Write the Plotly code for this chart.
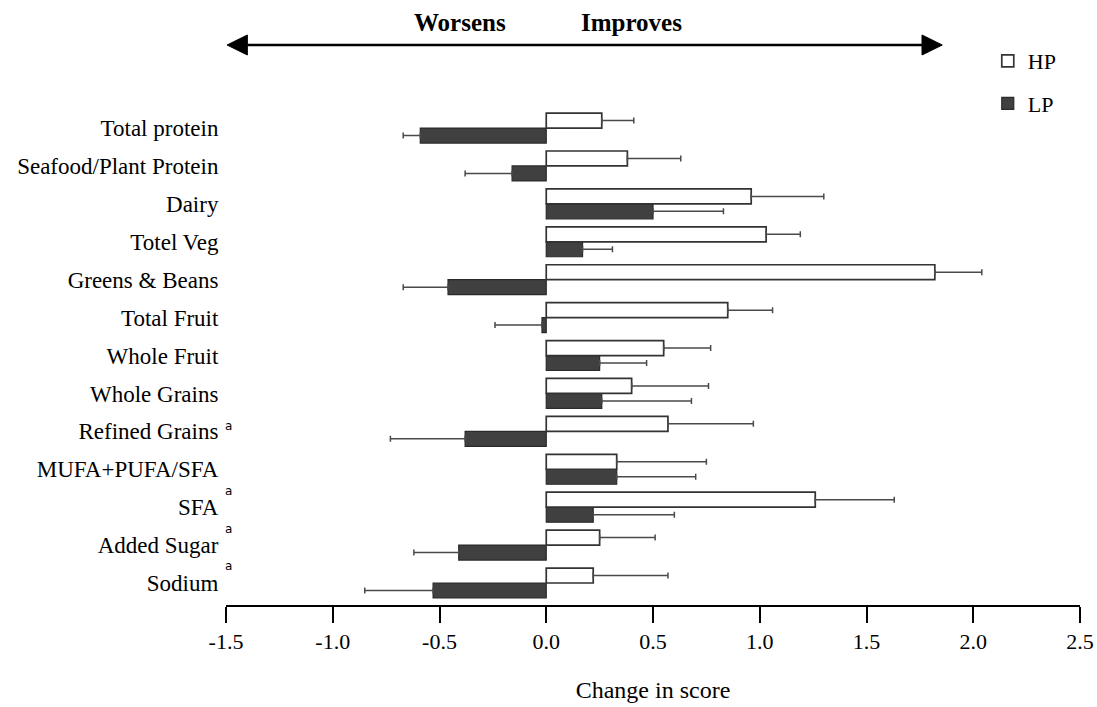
import plotly.graph_objects as go

categories = ["Total protein", "Seafood/Plant Protein", "Dairy", "Totel Veg",
              "Greens & Beans", "Total Fruit", "Whole Fruit", "Whole Grains",
              "Refined Grains", "MUFA+PUFA/SFA", "SFA", "Added Sugar", "Sodium"]
hp_values = [0.26, 0.38, 0.96, 1.03, 1.82, 0.85, 0.55, 0.40, 0.57, 0.33, 1.26, 0.25, 0.22]
hp_errors = [0.15, 0.25, 0.34, 0.16, 0.22, 0.21, 0.22, 0.36, 0.40, 0.42, 0.37, 0.26, 0.35]
lp_values = [-0.59, -0.16, 0.50, 0.17, -0.46, -0.02, 0.25, 0.26, -0.38, 0.33, 0.22, -0.41, -0.53]
lp_errors = [0.08, 0.22, 0.33, 0.14, 0.21, 0.22, 0.22, 0.42, 0.35, 0.37, 0.38, 0.21, 0.32]
x_ticks = [-1.5, -1.0, -0.5, 0.0, 0.5, 1.0, 1.5, 2.0, 2.5]
marked = ["Refined Grains", "SFA", "Added Sugar", "Sodium"]

FONT = "Liberation Serif, Times New Roman, serif"
n = len(categories)
pos = [n - 1 - i for i in range(n)]


def one_sided(vals, errs):
    plus = [e if v >= 0 else 0 for v, e in zip(vals, errs)]
    minus = [e if v < 0 else 0 for v, e in zip(vals, errs)]
    return plus, minus


lp_plus, lp_minus = one_sided(lp_values, lp_errors)
hp_plus, hp_minus = one_sided(hp_values, hp_errors)

fig = go.Figure()
fig.add_trace(go.Bar(
    y=pos, x=lp_values, orientation="h", name="LP", legendrank=2, legendgroup="lp",
    marker=dict(color="#404040", line=dict(color="#2a2a2a", width=1.2)),
    error_x=dict(type="data", symmetric=False, array=lp_plus, arrayminus=lp_minus,
                 color="#4a4a4a", thickness=1.5, width=3),
))
fig.add_trace(go.Bar(
    y=pos, x=hp_values, orientation="h", name="HP", legendrank=1, legendgroup="hp",
    marker=dict(color="white", line=dict(color="#333333", width=1.7)),
    error_x=dict(type="data", symmetric=False, array=hp_plus, arrayminus=hp_minus,
                 color="#4a4a4a", thickness=1.5, width=3),
))

# Plot geometry helpers (plot area: y from 100px to 605px => 505px tall)
def py(pix):
    return (605 - pix) / 505.0

# Double-headed arrow above the chart
ay = py(45)
hh = 10 / 505.0
fig.add_shape(type="line", xref="x", yref="paper", x0=-1.40, x1=1.76, y0=ay, y1=ay,
              line=dict(color="black", width=2.5))
fig.add_shape(type="path", xref="x", yref="paper",
              path=f"M -1.495 {ay} L -1.40 {ay + hh} L -1.40 {ay - hh} Z",
              fillcolor="black", line=dict(color="black", width=1))
fig.add_shape(type="path", xref="x", yref="paper",
              path=f"M 1.855 {ay} L 1.76 {ay + hh} L 1.76 {ay - hh} Z",
              fillcolor="black", line=dict(color="black", width=1))

fig.add_annotation(text="<b>Worsens</b>", xref="x", yref="paper", x=-0.405, y=py(22),
                   yanchor="middle", showarrow=False,
                   font=dict(family=FONT, size=25, color="black"))
fig.add_annotation(text="<b>Improves</b>", xref="x", yref="paper", x=0.40, y=py(22),
                   yanchor="middle", showarrow=False,
                   font=dict(family=FONT, size=25, color="black"))

offsets = {"Refined Grains": 0.13, "SFA": 0.42, "Added Sugar": 0.42, "Sodium": 0.45}
for c in marked:
    i = categories.index(c)
    fig.add_annotation(text="a", xref="paper", yref="y", x=0.003, y=pos[i] + offsets[c],
                       showarrow=False, xanchor="center", yanchor="middle",
                       font=dict(family="DejaVu Sans, sans-serif", size=12, color="black"))

fig.update_layout(
    width=1097, height=707,
    margin=dict(l=226, r=17, t=100, b=102, autoexpand=False),
    paper_bgcolor="white", plot_bgcolor="white",
    barmode="group", bargap=0.21, bargroupgap=0,
    font=dict(family=FONT, size=22, color="black"),
    legend=dict(x=0.892, y=py(40), xanchor="left", yanchor="top",
                bgcolor="rgba(0,0,0,0)", borderwidth=0, tracegroupgap=11,
                font=dict(family=FONT, size=22, color="black")),
    xaxis=dict(range=[-1.5, 2.5], tickvals=x_ticks, automargin=False,
               ticktext=[f"{v:.1f}" for v in x_ticks],
               showgrid=False, zeroline=False, showline=True, linecolor="black",
               linewidth=2, ticks="outside", ticklen=16, tickwidth=2, tickcolor="black",
               tickfont=dict(family=FONT, size=22),
               title=dict(text="Change in score", font=dict(family=FONT, size=24), standoff=28)),
    yaxis=dict(range=[-0.58, 12.74], tickvals=pos, ticktext=categories, automargin=False,
               showgrid=False, zeroline=False, showline=False,
               ticks="outside", ticklen=2, tickcolor="rgba(0,0,0,0)",
               tickfont=dict(family=FONT, size=23)),
)

fig.write_html("out.html", config={"displayModeBar": False},
               post_script="document.body.style.margin='0';document.body.style.overflow='hidden';")
